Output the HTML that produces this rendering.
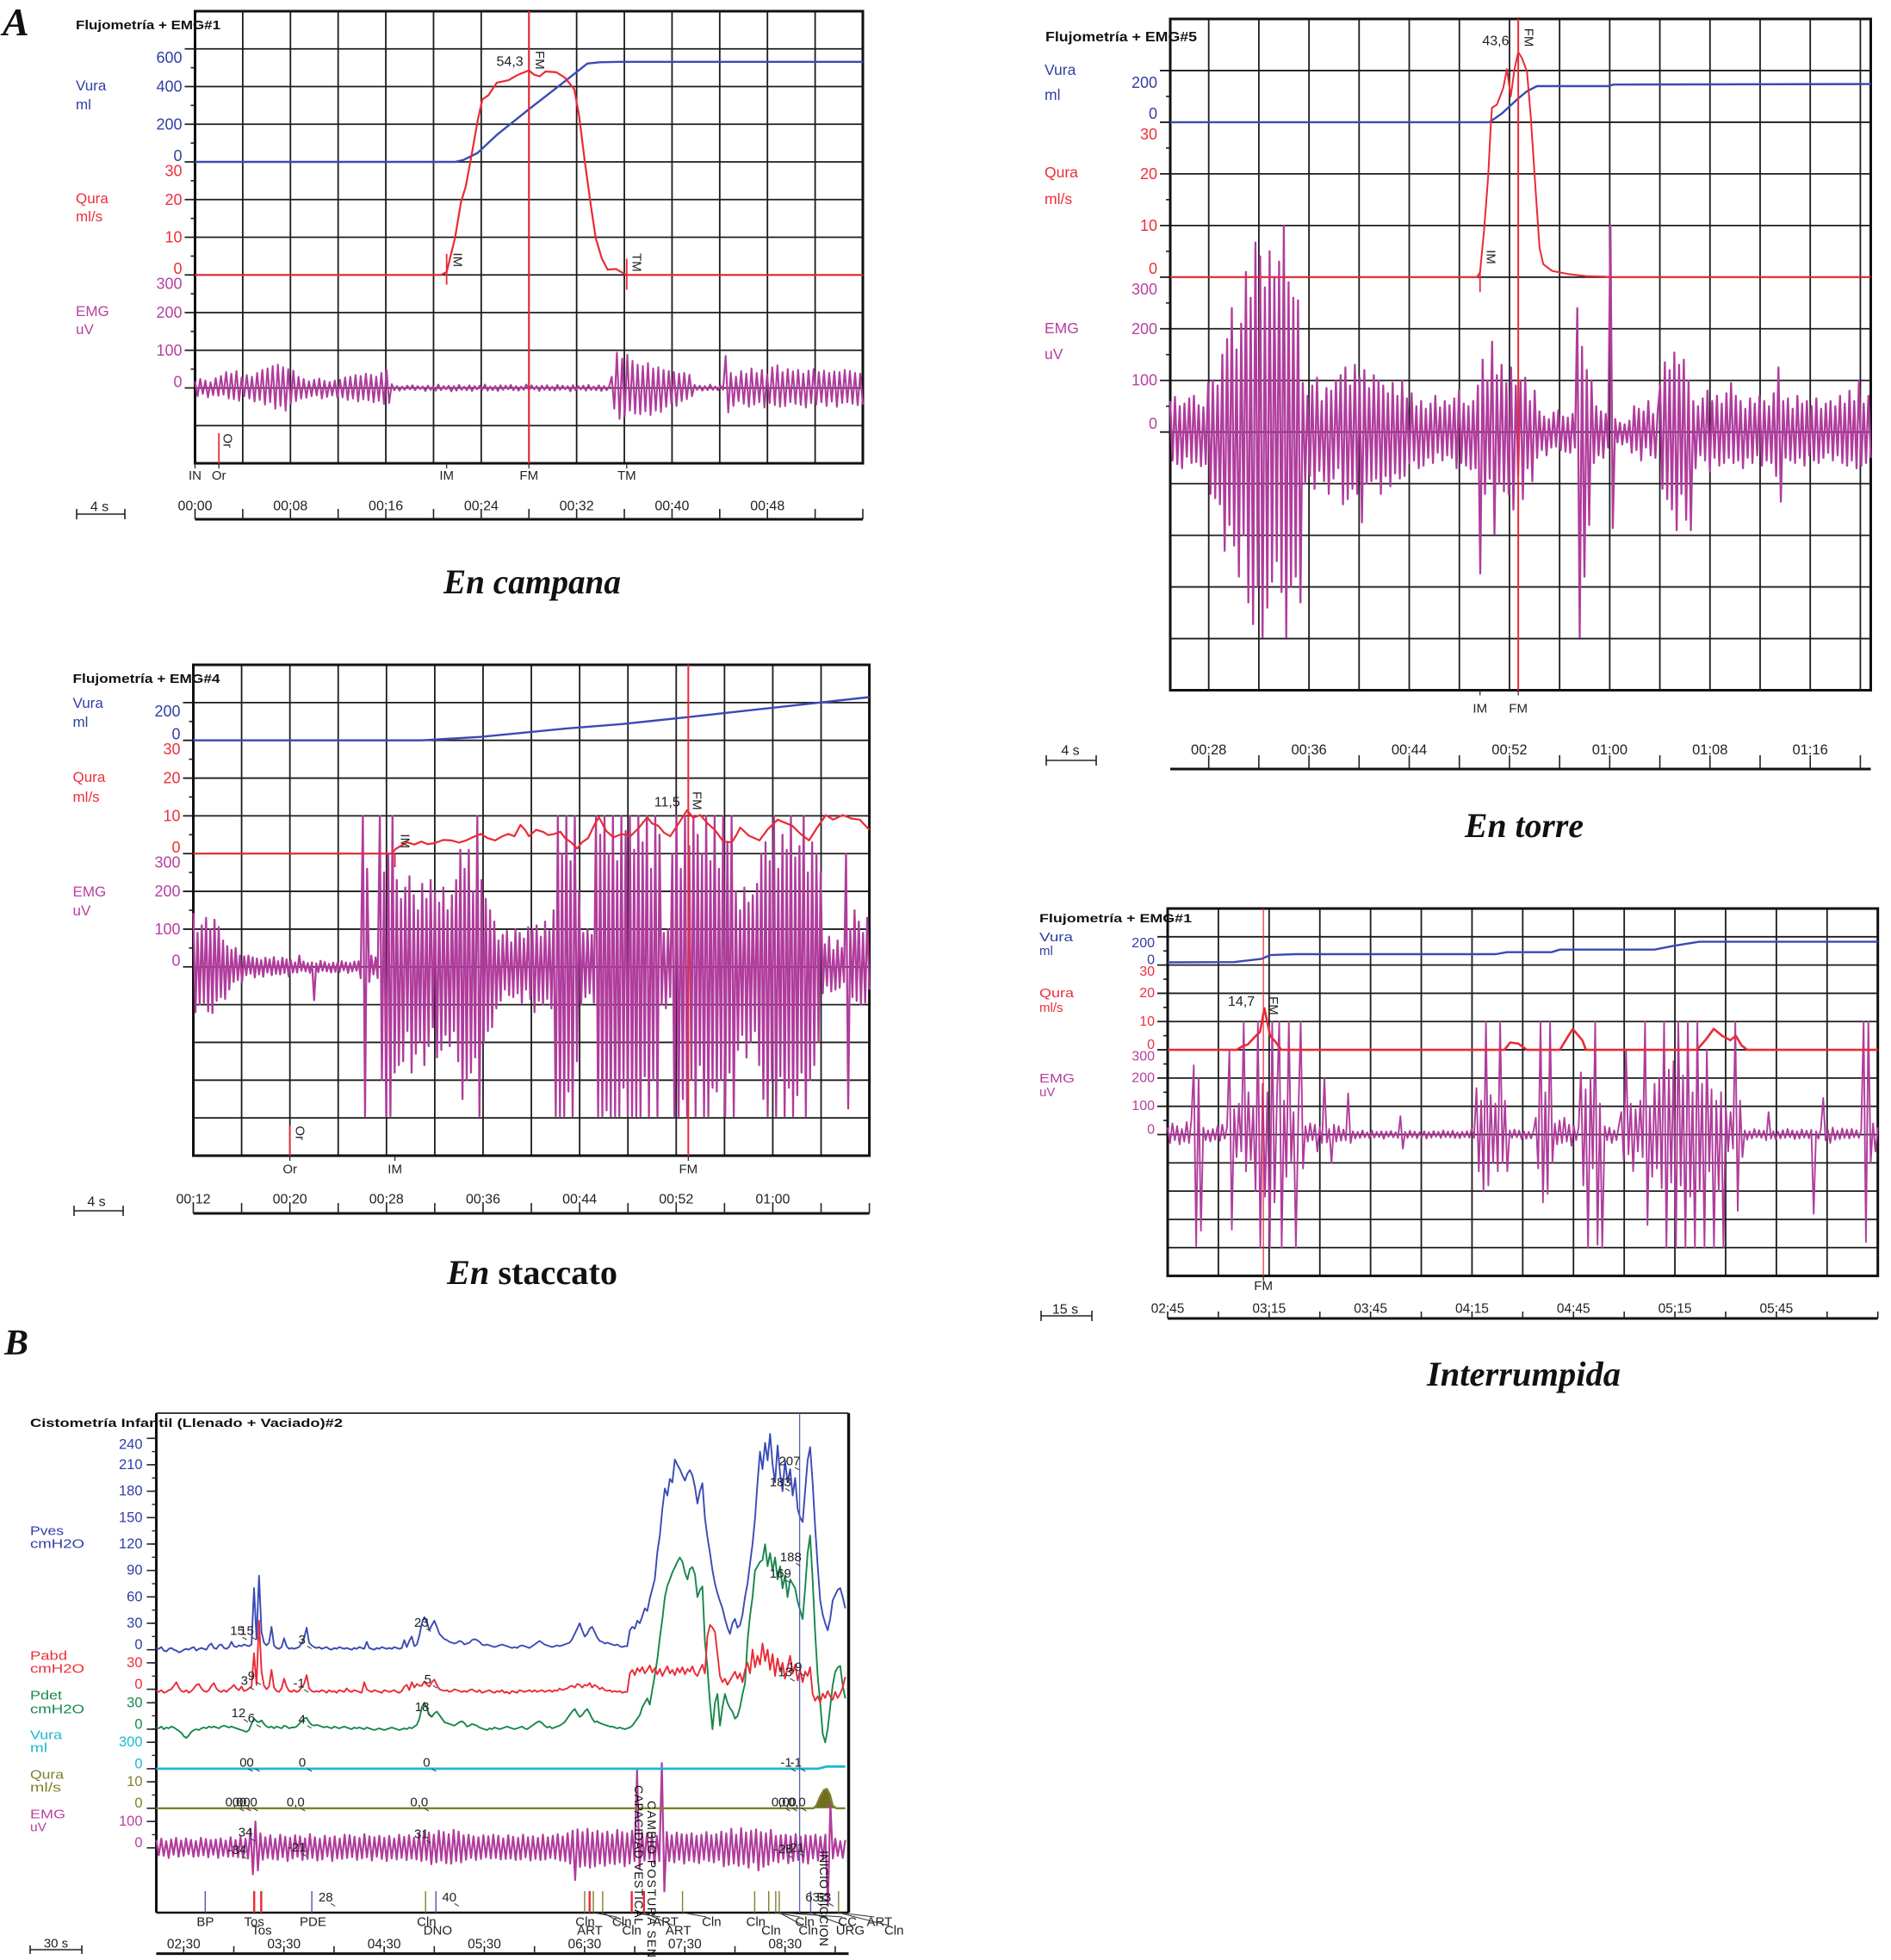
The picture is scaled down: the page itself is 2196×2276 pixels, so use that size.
<!DOCTYPE html>
<html lang="es">
<head>
<meta charset="utf-8">
<title>Flujometría + EMG</title>
<style>
html,body{margin:0;padding:0;background:#fff;}
svg{display:block;}
text{font-family:"Liberation Sans",sans-serif;fill:#111;}
.cap{font-family:"Liberation Serif",serif;font-weight:bold;}
</style>
</head>
<body>
<svg id="figure" xmlns="http://www.w3.org/2000/svg" width="2196" height="2276" viewBox="0 0 2196 2276">
<rect x="0" y="0" width="2196" height="2276" fill="#fff"/>
<text class="cap" x="3" y="41" font-size="46" font-style="italic">A</text>
<text class="cap" x="5" y="1573" font-size="42" font-style="italic">B</text>

<g id="a1">
<text x="88" y="34" font-size="15" font-weight="bold" textLength="168" lengthAdjust="spacingAndGlyphs">Flujometría + EMG#1</text>
<text x="88" y="105" font-size="17" style="fill:#2f3fa5">Vura</text>
<text x="88" y="127" font-size="17" style="fill:#2f3fa5">ml</text>
<text x="88" y="236" font-size="17" style="fill:#ee2e38">Qura</text>
<text x="88" y="257" font-size="17" style="fill:#ee2e38">ml/s</text>
<text x="88" y="367" font-size="17" style="fill:#b8409f">EMG</text>
<text x="88" y="388" font-size="17" style="fill:#b8409f">uV</text>
<text class="cap" x="515" y="689" font-size="40" font-style="italic" textLength="206" lengthAdjust="spacingAndGlyphs">En campana</text>
</g>

<g id="a2">
<text x="1214" y="48" font-size="15.5" font-weight="bold" textLength="176" lengthAdjust="spacingAndGlyphs">Flujometría + EMG#5</text>
<text x="1213" y="87" font-size="17.5" style="fill:#2f3fa5">Vura</text>
<text x="1213" y="116" font-size="17.5" style="fill:#2f3fa5">ml</text>
<text x="1213" y="206" font-size="17.5" style="fill:#ee2e38">Qura</text>
<text x="1213" y="237" font-size="17.5" style="fill:#ee2e38">ml/s</text>
<text x="1213" y="387" font-size="17.5" style="fill:#b8409f">EMG</text>
<text x="1213" y="417" font-size="17.5" style="fill:#b8409f">uV</text>
<text class="cap" x="1701" y="972" font-size="40" font-style="italic" textLength="138" lengthAdjust="spacingAndGlyphs">En torre</text>
</g>

<g id="a3">
<text x="84.5" y="793" font-size="15" font-weight="bold" textLength="171" lengthAdjust="spacingAndGlyphs">Flujometría + EMG#4</text>
<text x="84.5" y="822" font-size="17" style="fill:#2f3fa5">Vura</text>
<text x="84.5" y="844" font-size="17" style="fill:#2f3fa5">ml</text>
<text x="84.5" y="908" font-size="17" style="fill:#ee2e38">Qura</text>
<text x="84.5" y="931" font-size="17" style="fill:#ee2e38">ml/s</text>
<text x="84.5" y="1041" font-size="17" style="fill:#b8409f">EMG</text>
<text x="84.5" y="1063" font-size="17" style="fill:#b8409f">uV</text>
<text class="cap" x="519" y="1491" font-size="40" textLength="198" lengthAdjust="spacingAndGlyphs"><tspan font-style="italic">En</tspan> staccato</text>
</g>

<g id="a4">
<text x="1207" y="1071" font-size="14" font-weight="bold" textLength="177" lengthAdjust="spacingAndGlyphs">Flujometría + EMG#1</text>
<text x="1207" y="1093" font-size="15" textLength="39" lengthAdjust="spacingAndGlyphs" style="fill:#2f3fa5">Vura</text>
<text x="1207" y="1109" font-size="15" style="fill:#2f3fa5">ml</text>
<text x="1207" y="1158" font-size="15" textLength="40" lengthAdjust="spacingAndGlyphs" style="fill:#ee2e38">Qura</text>
<text x="1207" y="1175" font-size="15" style="fill:#ee2e38">ml/s</text>
<text x="1207" y="1257" font-size="15" textLength="41" lengthAdjust="spacingAndGlyphs" style="fill:#b8409f">EMG</text>
<text x="1207" y="1273" font-size="15" style="fill:#b8409f">uV</text>
<text class="cap" x="1657" y="1609" font-size="40" font-style="italic" textLength="225" lengthAdjust="spacingAndGlyphs">Interrumpida</text>
</g>

<g id="b">
<text x="35" y="1657" font-size="14" font-weight="bold" textLength="363" lengthAdjust="spacingAndGlyphs">Cistometría Infantil (Llenado + Vaciado)#2</text>
<text x="35" y="1782.5" font-size="15" textLength="39" lengthAdjust="spacingAndGlyphs" style="fill:#2f3fa5">Pves</text>
<text x="35" y="1797.5" font-size="15" textLength="63" lengthAdjust="spacingAndGlyphs" style="fill:#2f3fa5">cmH2O</text>
<text x="35" y="1927.5" font-size="15" textLength="43" lengthAdjust="spacingAndGlyphs" style="fill:#ee2e38">Pabd</text>
<text x="35" y="1942.5" font-size="15" textLength="63" lengthAdjust="spacingAndGlyphs" style="fill:#ee2e38">cmH2O</text>
<text x="35" y="1973.5" font-size="15" textLength="37" lengthAdjust="spacingAndGlyphs" style="fill:#168a4a">Pdet</text>
<text x="35" y="1989.5" font-size="15" textLength="63" lengthAdjust="spacingAndGlyphs" style="fill:#168a4a">cmH2O</text>
<text x="35" y="2019.5" font-size="15" textLength="37" lengthAdjust="spacingAndGlyphs" style="fill:#19b9d0">Vura</text>
<text x="35" y="2034.5" font-size="15" textLength="20" lengthAdjust="spacingAndGlyphs" style="fill:#19b9d0">ml</text>
<text x="35" y="2065.5" font-size="15" textLength="39" lengthAdjust="spacingAndGlyphs" style="fill:#80802a">Qura</text>
<text x="35" y="2080.5" font-size="15" textLength="36" lengthAdjust="spacingAndGlyphs" style="fill:#80802a">ml/s</text>
<text x="35" y="2111.5" font-size="15" textLength="41" lengthAdjust="spacingAndGlyphs" style="fill:#b8409f">EMG</text>
<text x="35" y="2126.5" font-size="15" textLength="19" lengthAdjust="spacingAndGlyphs" style="fill:#b8409f">uV</text>
</g>
<g id="b-overlay">
<text transform="translate(737,2073) rotate(90)" font-size="14" textLength="162" lengthAdjust="spacing">CAPACIDAD VESTICAL</text>
<text transform="translate(752,2091) rotate(90)" font-size="14" textLength="182" lengthAdjust="spacing">CAMBIO POSTURA SEN</text>
<text transform="translate(952,2149) rotate(90)" font-size="14" textLength="111" lengthAdjust="spacing">INICIO MICCION</text>
</g>
</svg>

<script>
/* ---------- Panel A1: En campana ---------- */
const a1VolTime=[0,21.8,22.5,23.7,25.3,28,31,32.9,33.9,35.5,56];
const a1VolValues=[0,0,10,48,143,280,427,522,529,531,531];
const a1FlowTime=[0,20.6,21.1,21.8,22.3,22.7,23.2,23.7,24.1,24.6,25.3,26.3,27,28,28.4,28.9,29.4,30.3,31,31.8,32.2,32.7,33.2,33.6,34.1,34.6,35.3,36,36.2,56];
const a1FlowValues=[0,0,0.8,9.8,19.3,23.5,32,41,46.6,47.7,51,51.7,53,54.3,53.2,52.7,54,53.8,52.4,49.3,42.4,29.8,18.2,9.8,4.5,1.4,1.6,0.3,0,0];
const a1Emg=[18,-22,24,-16,20,-25,15,-19,26,-21,32,-18,42,-28,38,-30,45,-34,28,-22,34,-28,30,-36,40,-32,48,-44,52,-38,58,-55,62,-48,55,-60,50,-42,46,-35,30,-28,24,-26,18,-22,22,-20,25,-28,19,-24,16,-20,20,-26,22,-25,28,-32,30,-28,34,-36,32,-30,38,-33,35,-38,30,-34,40,-42,48,-40,10,-6,5,-7,4,-5,6,-4,7,-6,5,-3,4,-8,6,-5,4,-7,9,-6,5,-4,6,-9,5,-7,8,-5,4,-6,7,-8,5,-4,6,-5,9,-7,4,-6,5,-8,7,-5,6,-4,8,-6,5,-7,4,-5,9,-6,7,-4,5,-8,6,-5,7,-6,4,-7,8,-5,6,-4,5,-9,7,-6,5,-4,6,-7,8,-5,4,-6,7,-8,5,-6,4,30,-55,94,-82,78,-75,88,-60,72,-68,62,-70,58,-62,66,-72,52,-60,55,-64,48,-50,45,-40,42,-48,38,-35,40,-30,35,-22,8,-5,6,-7,5,-6,9,-5,4,-6,7,-5,85,-65,40,-48,30,-35,45,-42,38,-50,52,-44,40,-38,48,-52,36,-40,55,-46,60,-50,42,-48,50,-38,44,-42,48,-45,38,-52,46,-40,50,-44,42,-38,46,-48,40,-36,44,-50,42,-40,48,-38,45,-42,40,-46,38,-44];
const a1VolTicks=[600,400,200,0];
const a1FlowTicks=[30,20,10,0];
const a1EmgTicks=[300,200,100,0];
const a1TimeLabels=['00:00','00:08','00:16','00:24','00:32','00:40','00:48'];
const a1MarkLabels=['IN','Or','IM','FM','TM'];
const a1MarkTime=[0,2,21.1,28,36.2];
const a1CursorTime=[28];
const a1TickTime=[2,21.1,36.2];
const a1TickHigh=[-42,5.6,4.3];
const a1TickLow=[-50,-2.6,-3.9];
const a1TagText=['FM','IM','TM','Or'];
const a1TagTime=[28.9,22,37,2.7];
const a1TagFlow=[57,4,3.3,-44];
const a1NoteText=['54,3'];
const a1NoteTime=[26.4];
const a1NoteFlow=[56.5];

/* ---------- Panel A2: En torre ---------- */
const a2VolTime=[24.93,50.4,51.4,52.7,53.4,54.2,59.9,60.3,80.83];
const a2VolValues=[0,0,34,92,120,140,140,146,148];
const a2FlowTime=[24.93,49.4,49.65,49.96,50.3,50.5,50.6,51,51.5,51.8,52.1,52.4,52.7,53,53.4,53.7,54.1,54.4,54.7,55.4,56.7,58.1,59.6,60,80.83];
const a2FlowValues=[0,0,0.9,8.8,19.5,29,32.8,33.4,36.6,40.3,35,40.3,43.6,42.4,39.8,31,16.3,5.6,2.5,1.2,0.6,0.2,0.1,0,0];
const a2Emg=[60,-55,68,-62,50,-70,55,-48,65,-60,70,-58,52,-66,48,-62,95,-120,100,-128,90,-140,150,-230,180,-180,240,-220,160,-280,210,-200,310,-330,260,-372,367,-300,340,-397,280,-340,350,-290,300,-250,330,-310,400,-397,290,-300,260,-280,255,-330,95,-100,70,-85,90,-110,105,-75,60,-95,85,-120,80,-90,100,-70,110,-140,125,-130,90,-110,130,-120,105,-175,120,-100,85,-95,110,-90,100,-120,90,-85,75,-105,95,-80,70,-90,100,-85,65,-60,75,-55,50,-70,60,-65,45,-50,55,-60,70,-40,48,-55,60,-45,52,-50,65,-70,80,-60,55,-65,50,-72,60,-70,90,-274,140,-120,100,-90,175,-197,110,-100,130,-115,95,-120,125,-150,90,-85,100,-130,105,-70,60,-95,80,-50,40,-35,30,-45,25,-30,38,-28,42,-35,30,-38,28,-40,35,-30,240,-397,165,-280,120,-180,100,-60,50,-45,40,-50,35,-30,400,-186,25,-20,18,-24,15,-20,22,-40,50,-35,45,-55,40,-30,60,-45,35,-50,42,90,-110,135,-130,120,-150,154,-190,130,-120,140,-170,100,-190,60,-70,50,-45,65,-55,80,-75,60,-50,70,-65,55,-60,75,-50,95,-60,70,-55,60,-70,45,-50,65,-60,55,-45,70,-65,60,-55,50,-60,75,-85,125,-135,60,-50,65,-55,45,-60,70,-50,55,-65,60,-45,50,-55,65,-60,45,-50,55,-40,60,-55,50,-45,70,-60,55,-65,80,-55,60,-70,100,-65,55,-60,70,-50];
const a2VolTicks=[200,0];
const a2FlowTicks=[30,20,10,0];
const a2EmgTicks=[300,200,100,0];
const a2TimeLabels=['00:28','00:36','00:44','00:52','01:00','01:08','01:16'];
const a2MarkLabels=['IM','FM'];
const a2MarkTime=[49.65,52.7];
const a2CursorTime=[52.7];
const a2TickTime=[49.65];
const a2TickHigh=[1.4];
const a2TickLow=[-2.9];
const a2TagText=['FM','IM'];
const a2TagTime=[53.5,50.5];
const a2TagFlow=[46.4,3.9];
const a2NoteText=['43,6'];
const a2NoteTime=[50.9];
const a2NoteFlow=[45.7];

/* ---------- Panel A3: En staccato ---------- */
const a3VolTime=[12,30.9,35.8,42.8,47.5,53,59.2,63.9,68];
const a3VolValues=[0,0,18,62,86,123,167,200,229];
const a3FlowTime=[12,28.4,28.8,29.7,30.3,30.9,31.4,32,32.7,33.4,34,34.6,35.2,35.8,36.4,37,37.6,38.1,38.6,39.1,39.5,39.8,40.4,41,41.4,41.9,42.4,42.8,43.3,43.8,44.2,44.7,45.2,45.6,46.2,46.8,47.5,48.2,48.9,49.6,50,50.5,51,51.5,52.2,52.9,53.4,54,54.6,55.2,55.9,56.6,57,57.3,58,58.9,59.6,60.4,61,61.6,62.3,63,63.7,64.4,65,65.8,66.5,67.2,68];
const a3FlowValues=[0,0,1.3,3,2.4,3.2,2.5,2.8,3.6,3.5,2.9,3.5,4.4,5.2,4.1,3.5,4.6,5.2,4.6,7.6,6.2,4.6,6.3,5.7,4.9,5.2,5.8,4.1,3,1.3,3,4.1,7.5,9.6,6,4.3,5.2,4.6,6.8,9.6,8,7.4,5.5,4.6,8,11.5,9.5,10.2,8,6.3,3.2,3,5,6.9,4.8,3.5,6.5,9,8.2,7.4,5.2,3.5,7,10.2,9,10.2,9.3,9,6.3];
const a3Emg=[143,-120,90,-100,110,-95,130,-118,100,-122,125,-90,105,-80,70,-85,55,-60,45,-40,50,-35,30,-40,28,-22,30,-18,25,-28,22,-20,18,-26,24,-15,20,-22,26,-18,15,-20,24,-16,20,-25,18,-15,12,-15,30,-10,14,-12,10,-16,12,-88,9,-14,16,-10,13,-12,8,-15,11,-13,10,-14,15,-9,12,-16,10,-12,14,-10,15,-30,400,-395,260,-40,30,-20,25,-30,400,-300,250,-395,300,-395,400,-280,230,-260,180,-250,210,-170,240,-280,190,-230,150,-200,220,-260,180,-210,230,-160,200,-240,170,-220,210,-180,150,-210,190,-170,230,-250,310,-350,260,-300,310,-280,200,-240,400,-395,230,-200,180,-170,150,-160,120,-110,70,-90,85,-60,95,-75,65,-80,100,-70,90,-95,75,-60,105,-85,100,-120,110,-90,80,-100,120,-85,95,-110,150,-395,400,-395,300,-395,400,-330,280,-395,400,-250,200,-100,90,-80,100,-70,85,-95,400,-395,350,-395,400,-380,300,-395,400,-395,280,-395,400,-320,360,-395,400,-395,310,-395,400,-395,330,-290,400,-395,260,-300,400,-395,350,-100,90,-110,100,-80,300,-395,400,-395,260,-350,400,-395,320,-300,400,-395,350,-260,300,-395,400,-395,280,-320,400,-330,260,-300,400,-395,330,-280,400,-395,200,-220,150,-180,210,-240,170,-200,190,-170,220,-260,300,-350,330,-395,280,-300,400,-395,260,-290,350,-395,310,-320,400,-395,290,-340,320,-280,400,-395,250,-300,330,-260,300,-200,250,-70,60,-50,80,-65,45,-60,70,-55,50,-40,300,-375,100,-80,150,-90,120,-100,90,-95,130,-60];
const a3VolTicks=[200,0];
const a3FlowTicks=[30,20,10,0];
const a3EmgTicks=[300,200,100,0];
const a3TimeLabels=['00:12','00:20','00:28','00:36','00:44','00:52','01:00'];
const a3MarkLabels=['Or','IM','FM'];
const a3MarkTime=[20,28.7,53];
const a3CursorTime=[53];
const a3TickTime=[20,28.7];
const a3TickHigh=[-72,0];
const a3TickLow=[-80,-3.6];
const a3TagText=['FM','IM','Or'];
const a3TagTime=[53.7,29.5,20.8];
const a3TagFlow=[14,3.3,-74];
const a3NoteText=['11,5'];
const a3NoteTime=[51.25];
const a3NoteFlow=[13.5];

/* ---------- Panel A4: Interrumpida ---------- */
const a4VolTime=[165,184.6,192.8,195.3,202.7,262,265.3,278.5,281,309,314.8,322.2,375];
const a4VolValues=[19,21,44,70,77,77,91,91,109,109,137,165,165];
const a4FlowTime=[165,185.4,187,188.7,191.1,192.3,193.6,195.3,196.9,198.6,264.6,266.3,268.7,271.2,281,283.5,284.8,287.6,288.7,321.5,324,326.5,329,331.4,333,334.7,336.4,375];
const a4FlowValues=[0,0,1.2,1.9,5,6.3,14.7,5,2.8,0,0,2.6,2.2,0,0,5,7.4,3.4,0,0,3.4,7.4,4.9,3.4,5,1.6,0,0];
const a4Emg=[25,-30,40,-20,30,-35,20,-25,45,-30,55,245,-394,200,-340,25,-20,15,-25,20,-18,30,-22,35,-15,28,300,-336,90,-80,110,-60,399,-130,150,-90,100,-200,399,-400,180,-220,150,-400,399,-240,130,399,-400,120,-150,399,-100,80,-400,60,399,-120,30,-25,40,-20,35,-60,25,-30,200,-28,20,-100,35,-25,30,-22,18,-20,146,-30,12,-14,10,-12,15,-10,8,-13,14,-11,10,-9,12,-15,11,-8,13,-10,9,-12,65,-50,10,-12,14,-9,11,-13,8,-10,12,-14,9,-11,13,-8,10,-12,15,-9,11,-10,14,-12,8,-13,10,-9,12,-11,20,-12,165,-130,120,-200,399,-180,140,-100,110,-130,399,-100,120,-130,15,-12,18,-10,14,-16,12,-15,10,-14,12,60,-120,399,-240,150,-210,399,-100,40,-35,50,-30,60,-25,35,-40,30,-20,25,220,-180,160,-400,200,-120,399,-390,110,-400,30,-20,25,-30,15,-20,35,80,-90,300,-70,110,-130,90,-60,120,-80,399,-320,100,-150,180,-120,200,-190,399,-400,230,-170,260,-400,399,-180,210,-400,399,-220,150,-400,399,-200,180,-400,300,-130,160,-400,120,-200,150,-400,100,-60,80,-50,399,-270,120,-80,15,-18,12,-14,20,-10,16,-12,14,-20,80,-15,12,-18,10,-14,16,-12,20,-10,15,-16,12,-14,18,-11,14,-13,17,-280,12,-15,18,130,-20,15,-30,25,-18,14,-16,22,-12,18,-14,20,-10,16,-12,15,399,-380,399,-100,40,-60,25];
const a4VolTicks=[200,0];
const a4FlowTicks=[30,20,10,0];
const a4EmgTicks=[300,200,100,0];
const a4TimeLabels=['02:45','03:15','03:45','04:15','04:45','05:15','05:45'];
const a4MarkLabels=['FM'];
const a4MarkTime=[193.3];
const a4CursorTime=[193.3];
const a4TickTime=[];
const a4TickHigh=[];
const a4TickLow=[];
const a4TagText=['FM'];
const a4TagTime=[196.2];
const a4TagFlow=[15.6];
const a4NoteText=['14,7'];
const a4NoteTime=[186.8];
const a4NoteFlow=[16.9];

/* ---------- Panel B: Cistometría ---------- */
const bPves=[2,1,3,-1,-2,1,2,0,-1,-3,-2,0,1,0,2,3,-1,1,2,1,0,5,7,2,1,5,6,2,1,3,9,4,3,5,4,6,5,4,6,70,12,84,20,8,5,8,26,5,2,1,3,13,4,1,2,1,2,3,7,13,25,8,5,3,2,3,1,2,3,1,0,2,1,3,2,1,2,1,0,2,1,3,2,1,9,2,1,0,2,1,3,2,1,2,1,3,2,1,2,11,3,10,15,4,6,16,30,37,32,22,28,33,26,18,15,12,11,9,8,7,8,10,9,6,7,8,11,12,11,9,6,5,6,5,4,3,4,5,6,5,4,3,2,3,2,4,5,4,3,2,4,6,8,10,8,6,5,4,3,4,5,4,5,6,7,8,12,18,24,30,22,15,18,24,26,20,14,10,9,7,8,7,6,5,6,4,3,4,4,22,26,24,33,30,38,47,44,58,69,80,111,130,160,183,175,194,190,216,210,205,198,192,200,204,198,185,166,180,189,150,128,110,90,75,64,55,47,35,25,18,30,35,25,28,40,60,75,98,120,149,190,225,205,235,215,245,210,190,232,200,180,215,190,205,175,195,160,150,145,180,215,230,190,140,95,56,40,30,22,35,56,62,68,70,60,47];
const bPabd=[-2,-3,-1,-4,-3,-1,0,4,8,2,-2,-3,-1,-4,-2,1,5,6,1,-2,-3,-1,4,7,1,-2,-3,-1,-3,0,2,5,1,-1,3,-2,-1,1,3,41,5,78,20,4,0,3,22,2,-2,-3,1,12,3,-2,-3,-1,-3,-2,2,6,16,1,-2,-3,-2,-3,-1,-2,-4,-1,-3,-2,-4,-1,-2,-3,1,-2,-3,-1,-2,-3,-4,8,0,-2,-3,-1,-2,-3,-4,-1,-2,-3,-2,-1,-3,-4,-2,3,5,-1,8,2,6,4,4,9,5,3,8,11,5,0,-1,-2,-1,-3,-2,0,-1,-2,-3,-2,-3,-1,0,-2,-3,-1,-4,-3,-2,-1,-3,-4,-2,-3,-1,-4,-3,-5,-2,-3,-4,-1,-2,-3,-2,-1,-3,-1,-3,-2,-1,-3,-2,-1,-3,-1,-2,1,-1,0,1,3,4,2,6,5,2,5,4,7,2,5,3,0,2,-1,-2,-1,-3,-2,-3,-2,-4,-3,-3,18,22,16,24,20,25,18,22,27,19,24,17,23,15,21,26,18,22,16,24,19,25,17,23,20,26,18,15,22,28,18,60,73,70,65,40,15,8,12,5,10,15,20,12,18,8,22,30,18,45,25,38,28,52,32,45,22,40,15,35,20,30,12,25,38,18,28,10,22,8,20,15,25,-5,-13,-8,-15,-5,-10,-2,-8,-12,-3,-10,-5,2,14];
const bPdet=[2,1,3,0,2,1,3,2,0,-2,-4,-8,-10,-7,-3,-1,0,-1,1,2,1,3,2,3,2,1,3,4,3,2,3,2,1,0,-1,-2,-3,-1,6,12,9,8,10,6,3,2,3,1,3,2,1,4,3,1,2,2,3,6,9,12,13,8,5,4,5,4,3,2,3,2,1,3,2,1,2,3,2,1,0,2,1,2,1,0,2,1,0,-1,0,1,0,-1,0,1,2,1,0,-1,0,1,0,2,1,3,5,12,25,30,24,16,14,18,20,16,12,8,7,6,5,4,6,8,9,7,3,4,6,5,4,2,1,0,-1,1,0,2,1,0,1,2,3,2,1,0,1,2,3,1,0,2,4,6,8,9,7,4,2,3,1,2,3,4,6,8,12,16,20,23,18,14,16,20,23,18,12,8,9,7,6,5,4,3,3,2,1,2,1,0,1,2,4,8,12,16,25,30,35,28,45,61,80,104,125,150,163,170,178,184,190,195,190,178,170,182,184,176,150,158,162,100,70,30,0,30,40,4,25,40,30,24,20,12,15,25,40,52,100,129,150,180,185,190,192,210,185,200,180,195,170,185,160,175,150,170,165,160,145,135,125,160,200,220,170,110,60,30,-5,-15,0,25,50,65,70,72,50,35];
const bEmg=[30,-28,35,-30,25,-38,32,-26,38,-34,28,-30,36,-24,30,-34,26,-32,38,-28,34,-36,30,-26,32,-38,36,-30,28,-34,40,-32,30,-36,42,-38,35,-40,70,-100,100,-85,55,-45,40,-38,48,-42,35,-45,50,-36,42,-50,38,-40,48,-34,44,-46,36,-42,52,-38,40,-48,35,-44,46,-32,38,-50,44,-40,36,-42,50,-38,48,-35,42,-46,38,-40,52,-36,44,-48,40,-34,46,-42,38,-50,45,-40,36,-44,50,-38,42,-46,48,-40,38,-44,55,-50,60,-45,58,-62,50,-55,65,-48,60,-58,52,-60,68,-50,62,-55,48,-45,50,-38,44,-46,40,-42,48,-36,44,-40,50,-38,46,-44,36,-42,48,-40,42,-46,38,-44,50,-36,40,-48,44,-42,38,-46,50,-44,40,-38,46,-42,52,-48,44,-50,55,-60,65,-122,70,-72,60,-68,72,-75,58,-70,65,-60,55,-68,62,-58,50,-62,68,-55,60,-70,55,-60,65,-50,293,-80,60,-48,55,-42,50,-60,45,-50,321,-165,60,-50,48,-55,58,-45,52,-60,50,-48,55,-52,46,-58,50,-45,60,-50,48,-55,52,-46,62,-70,55,-65,72,-60,50,-68,75,-62,58,-75,65,-55,70,-85,60,-72,55,-65,68,-50,45,-55,48,-42,50,-58,44,-50,52,-46,42,-55,48,-60,45,-40,50,-48,42,-44,50,-220,166,-40,35,-30,25,-38,30];
const bVolTime=[133.6,529.8,535,546];
const bVolValues=[0,0,25,25];
const bFlowTime=[133.6,527,528.8,531,533.3,535,536.8,538.5,540.6,546];
const bFlowValues=[0,0,1,4.5,6.9,7.3,5.2,1,0,0];
const bPvesTicks=[240,210,180,150,120,90,60,30,0];
const bPabdTicks=[30,0];
const bPdetTicks=[30,0];
const bVolTicks=[300,0];
const bFlowTicks=[10,0];
const bEmgTicks=[100,0];
const bTimeLabels=['02:30','03:30','04:30','05:30','06:30','07:30','08:30'];
const bEventTime=[162.9,192.2,196.4,226.7,294.8,301,390,393,395.2,400.8,418.2,425.5,448.6,491.8,500.2,504.4,506.5,525.3,542];
const bEventKind=['blue','red','red','blue','olive','blue','olive','red','olive','olive','red','red','olive','olive','olive','olive','olive','blue','olive'];
const bLabelText=['BP','Tos','Tos','PDE','Cln','DNO','Cln','ART','Cln','Cln','ART','ART','Cln','Cln','Cln','Cln','Cln','CC','URG','ART','Cln'];
const bLabelTime=[162.9,192.2,196.7,227.4,295.4,302.1,390.3,393.1,412.3,418.2,438.5,446.1,466,492.5,501.6,521.8,523.9,547.3,549,566.5,575.2];
const bLabelRow=[0,0,1,0,0,1,0,1,0,1,0,1,0,0,1,0,1,0,1,0,1];
const bLabelEvent=[0,1,2,3,4,5,6,7,8,9,10,11,12,13,14,15,16,16,17,18,18];
const bCursorTime=[518.7];
const bPvesNoteText=['15','15','3','23','207','183','188','169'];
const bPvesNoteTime=[182.1,187.7,220.8,292.3,512.7,507.2,513.4,507.2];
const bPvesNoteValue=[21,21,11,30.5,214,190,105,86];
const bPabdNoteText=['3','9','-1','5','19','13'];
const bPabdNoteTime=[186.3,190.5,219,296.1,515.9,510];
const bPabdNoteValue=[9.3,15,6.4,11,25,19];
const bPdetNoteText=['12','6','4','18'];
const bPdetNoteTime=[182.8,190.5,220.8,292.7];
const bPdetNoteValue=[18,12,11,25];
const bVolNoteText=['0','0','0','0','-1','-1'];
const bVolNoteTime=[185.6,189.8,221,295.4,510.7,516.5];
const bVolNoteValue=[68,68,68,68,68,68];
const bFlowNoteText=['0,0','0,0','0,0','0,0','0,0','0,0','0,0','0,0'];
const bFlowNoteTime=[180.3,184.5,188.7,217,291,507.2,511.4,517];
const bFlowNoteValue=[2.25,2.25,2.25,2.25,2.25,2.25,2.25,2.25];
const bEmgNoteText=['34','-34','-21','31','-28','-21','28','40','63','53'];
const bEmgNoteTime=[187,182,217.7,292.3,509,515.9,235,309,526.4,533.3];
const bEmgNoteValue=[58,-8,1,51,-6,0,-188,-188,-188,-188];

/* ---------- Drawing ---------- */
const NS='http://www.w3.org/2000/svg';
const BLUE='#3a4ab5',RED='#ea2a36',MAG='#b03c9c',GREEN='#16874a',CYAN='#1cb8d2',OLIVE='#80802a';

function make(tag,attrs,parent){
  const el=document.createElementNS(NS,tag);
  for(const k in attrs){el.setAttribute(k,attrs[k]);}
  parent.appendChild(el);
  return el;
}
function seg(parent,name,x1,y1,x2,y2,color,width){
  const el=make('line',{x1:x1,y1:y1,x2:x2,y2:y2,stroke:color,'stroke-width':width},parent);
  
  
  return el;
}
function label(parent,name,str,x,y,size,color,anchor){
  const el=make('text',{x:x,y:y,'font-size':size,'text-anchor':anchor||'middle','dominant-baseline':'central',style:'fill:'+color},parent);
  el.textContent=str;
  
  
  return el;
}
function trace(parent,name,pts,color,width){
  const el=make('polyline',{points:pts.map(p=>p[0].toFixed(1)+','+p[1].toFixed(1)).join(' '),fill:'none',stroke:color,'stroke-width':width,'stroke-linejoin':'round'},parent);
  
  
  return el;
}
function secs(s){const q=s.split(':');return (+q[0])*60+(+q[1]);}

const panels=[
 {id:'a1',left:226.5,right:1002,top:13,bottom:538,rows:12,tStart:0,tEnd:56,col:4,vol:{zeroRow:4,perRow:200},flow:{zeroRow:7,perRow:10},emg:{zeroRow:10,perRow:100},
  volT:a1VolTime,volV:a1VolValues,flowT:a1FlowTime,flowV:a1FlowValues,emgV:a1Emg,volTicks:a1VolTicks,flowTicks:a1FlowTicks,emgTicks:a1EmgTicks,timeLabels:a1TimeLabels,markL:a1MarkLabels,markT:a1MarkTime,cursor:a1CursorTime,tickT:a1TickTime,tickH:a1TickHigh,tickL:a1TickLow,tagS:a1TagText,tagT:a1TagTime,tagV:a1TagFlow,noteS:a1NoteText,noteT:a1NoteTime,noteV:a1NoteFlow,
  axisY:603,tickTop:591,timeLabelY:588,markY:552.5,scale:[89,145,597],scaleText:['4 s',115.5,589],fs:18,tfs:16,flowW:2.2,emgW:2.1,cursorW:2},
 {id:'a2',left:1359,right:2172.5,top:22,bottom:801.5,rows:13,tStart:24.93,tEnd:80.83,col:4,gridFrom:28,vol:{zeroRow:2,perRow:200},flow:{zeroRow:5,perRow:10},emg:{zeroRow:8,perRow:100},
  volT:a2VolTime,volV:a2VolValues,flowT:a2FlowTime,flowV:a2FlowValues,emgV:a2Emg,volTicks:a2VolTicks,flowTicks:a2FlowTicks,emgTicks:a2EmgTicks,timeLabels:a2TimeLabels,markL:a2MarkLabels,markT:a2MarkTime,cursor:a2CursorTime,tickT:a2TickTime,tickH:a2TickHigh,tickL:a2TickLow,tagS:a2TagText,tagT:a2TagTime,tagV:a2TagFlow,noteS:a2NoteText,noteT:a2NoteTime,noteV:a2NoteFlow,
  axisY:893,tickTop:877,timeLabelY:871,markY:823,scale:[1215,1273,883],scaleText:['4 s',1243,872],fs:18,tfs:16.5,flowW:2,emgW:2.3,cursorW:2},
 {id:'a3',left:224.5,right:1009.6,top:772,bottom:1342,rows:13,tStart:12,tEnd:68,col:4,vol:{zeroRow:2,perRow:200},flow:{zeroRow:5,perRow:10},emg:{zeroRow:8,perRow:100},
  volT:a3VolTime,volV:a3VolValues,flowT:a3FlowTime,flowV:a3FlowValues,emgV:a3Emg,volTicks:a3VolTicks,flowTicks:a3FlowTicks,emgTicks:a3EmgTicks,timeLabels:a3TimeLabels,markL:a3MarkLabels,markT:a3MarkTime,cursor:a3CursorTime,tickT:a3TickTime,tickH:a3TickHigh,tickL:a3TickLow,tagS:a3TagText,tagT:a3TagTime,tagV:a3TagFlow,noteS:a3NoteText,noteT:a3NoteTime,noteV:a3NoteFlow,
  axisY:1409,tickTop:1397,timeLabelY:1393,markY:1358,scale:[86,143,1406],scaleText:['4 s',112,1396],fs:18,tfs:16,flowW:2.2,emgW:2.3,cursorW:2},
 {id:'a4',left:1356,right:2180.7,top:1055,bottom:1481.6,rows:13,tStart:165,tEnd:375,col:15,vol:{zeroRow:2,perRow:200},flow:{zeroRow:5,perRow:10},emg:{zeroRow:8,perRow:100},
  volT:a4VolTime,volV:a4VolValues,flowT:a4FlowTime,flowV:a4FlowValues,emgV:a4Emg,volTicks:a4VolTicks,flowTicks:a4FlowTicks,emgTicks:a4EmgTicks,timeLabels:a4TimeLabels,markL:a4MarkLabels,markT:a4MarkTime,cursor:a4CursorTime,tickT:a4TickTime,tickH:a4TickHigh,tickL:a4TickLow,tagS:a4TagText,tagT:a4TagTime,tagV:a4TagFlow,noteS:a4NoteText,noteT:a4NoteTime,noteV:a4NoteFlow,
  axisY:1531,tickTop:1523,timeLabelY:1520,markY:1493.5,scale:[1209,1268,1528],scaleText:['15 s',1237,1521],fs:16,tfs:15.5,flowW:2.6,emgW:1.9,cursorW:1.2}
];

function drawPanel(p){
  const g=document.getElementById(p.id);
  const X=t=>p.left+(t-p.tStart)/(p.tEnd-p.tStart)*(p.right-p.left);
  const rowH=(p.bottom-p.top)/p.rows;
  const Y=(ch,v)=>p.top+(ch.zeroRow-v/ch.perRow)*rowH;

  for(let r=1;r<p.rows;r++){
    const y=p.top+r*rowH;
    const ext=(r<=p.emg.zeroRow)?12:0;
    seg(g,'grid-row-line',p.left-ext,y,p.right,y,'#1c1c1c',1.8);
    if(r<p.emg.zeroRow){seg(g,'minor-y-tick',p.left-5,y+rowH/2,p.left,y+rowH/2,'#1c1c1c',1.6);}
  }
  const gridFrom=p.gridFrom===undefined?p.tStart+p.col:p.gridFrom;
  for(let t=gridFrom;t<p.tEnd-0.01;t+=p.col){
    seg(g,'grid-column-line',X(t),p.top,X(t),p.bottom,'#1c1c1c',1.8);
  }
  const frame=make('rect',{x:p.left,y:p.top,width:p.right-p.left,height:p.bottom-p.top,fill:'none',stroke:'#111','stroke-width':3},g);
  
  

  const emgPts=p.emgV.map((v,i)=>[X(p.tStart+i*(p.tEnd-p.tStart)/(p.emgV.length-1)),Y(p.emg,v)]);
  trace(g,'emg-trace',emgPts,MAG,p.emgW);
  trace(g,'vura-trace',p.volT.map((t,i)=>[X(t),Y(p.vol,p.volV[i])]),BLUE,2.4);
  trace(g,'qura-trace',p.flowT.map((t,i)=>[X(t),Y(p.flow,p.flowV[i])]),RED,p.flowW);

  p.cursor.forEach(t=>{seg(g,'fm-cursor-line',X(t),p.top,X(t),p.bottom,RED,p.cursorW);});
  p.tickT.forEach((t,i)=>{seg(g,'event-tick',X(t),Y(p.flow,p.tickH[i]),X(t),Y(p.flow,p.tickL[i]),RED,1.8);});

  function ticks(arr,ch,color,prefix){
    arr.forEach((v,i)=>{
      let dy=0;
      if(i===0){dy=0.235*rowH;}
      if(v===0){dy=-0.165*rowH;}
      label(g,prefix+'-tick-label',String(v),p.left-15,Y(ch,v)+dy,p.fs,color,'end');
    });
  }
  ticks(p.volTicks,p.vol,'#2f3fa5','vura');
  ticks(p.flowTicks,p.flow,'#ee2e38','qura');
  ticks(p.emgTicks,p.emg,'#b8409f','emg');

  p.tagS.forEach((s,i)=>{
    const x=X(p.tagT[i]),y=Y(p.flow,p.tagV[i]);
    const el=label(g,'event-tag',s,x,y,15,'#222');
    el.setAttribute('transform','rotate(90 '+x+' '+y+')');
  });
  p.noteS.forEach((s,i)=>{label(g,'peak-flow-value',s,X(p.noteT[i]),Y(p.flow,p.noteV[i]),16,'#222');});
  p.markL.forEach((s,i)=>{
    seg(g,'event-axis-tick',X(p.markT[i]),p.bottom,X(p.markT[i]),p.bottom+6,'#222',1.2);
    label(g,'event-axis-label',s,X(p.markT[i]),p.markY,15,'#222');
  });

  seg(g,'time-axis-line',p.left,p.axisY,p.right,p.axisY,'#111',3);
  const t0=secs(p.timeLabels[0]);
  for(let t=t0;t<=p.tEnd;t+=p.col){seg(g,'time-axis-tick',X(t),p.tickTop,X(t),p.axisY,'#222',1.6);}
  p.timeLabels.forEach(s=>{label(g,'time-tick-label',s,X(secs(s)),p.timeLabelY,p.tfs,'#222');});

  seg(g,'scale-bar',p.scale[0],p.scale[2],p.scale[1],p.scale[2],'#222',1.6);
  seg(g,'scale-bar-cap',p.scale[0],p.scale[2]-6,p.scale[0],p.scale[2]+6,'#222',1.6);
  seg(g,'scale-bar-cap',p.scale[1],p.scale[2]-6,p.scale[1],p.scale[2]+6,'#222',1.6);
  label(g,'scale-bar-label',p.scaleText[0],p.scaleText[1],p.scaleText[2],16,'#222');
}
panels.forEach(drawPanel);

function drawB(){
  const g=document.getElementById('b');
  const left=181.5,right=985.5,top=1641,bottom=2221;
  const X=t=>left+(t-133.6)*1.94;
  const pves={zero:1915.7,scale:1.0227},pabd={zero:1961.6,scale:1.0227},pdet={zero:2008,scale:1.0227},
        vol={zero:2053.9,scale:0.1024},flow={zero:2099.8,scale:3.07},emg={zero:2145.8,scale:0.3068};
  const Y=(ch,v)=>ch.zero-v*ch.scale;
  const series=(arr)=>arr.map((v,i)=>[133.6+i*412.4/(arr.length-1),v]);

  seg(g,'plot-top-border',left,top,right,top,'#222',1.8);
  seg(g,'plot-left-border',left,top,left,bottom,'#111',3);
  seg(g,'plot-right-border',right,top,right,bottom,'#111',3.4);
  seg(g,'plot-bottom-border',left,bottom,right,bottom,'#111',2.6);

  for(let k=0;k<=31;k++){
    seg(g,'minor-y-tick',left-5,Y(pves,240-15*k),left,Y(pves,240-15*k),'#222',1.4);
  }
  function ticks(arr,ch,color,prefix){
    arr.forEach((v,i)=>{
      let dy=0;
      if(v===0){dy=-5.6;}
      if(v===240){dy=7;}
      seg(g,prefix+'-major-tick',left-11,Y(ch,v),left,Y(ch,v),'#222',1.6);
      label(g,prefix+'-tick-label',String(v),left-16,Y(ch,v)+dy,16.5,color,'end');
    });
  }
  ticks(bPvesTicks,pves,'#2f3fa5','pves');
  ticks(bPabdTicks,pabd,'#ee2e38','pabd');
  ticks(bPdetTicks,pdet,'#168a4a','pdet');
  ticks(bVolTicks,vol,'#19b9d0','vura');
  ticks(bFlowTicks,flow,'#80802a','qura');
  ticks(bEmgTicks,emg,'#b8409f','emg');

  const area=make('polygon',{points:bFlowTime.map((t,i)=>X(t).toFixed(1)+','+Y(flow,bFlowValues[i]).toFixed(1)).join(' '),fill:'#6f6f22'},g);
  
  
  trace(g,'emg-trace',series(bEmg).map(p=>[X(p[0]),Y(emg,p[1])]),MAG,2.2);
  trace(g,'qura-trace',bFlowTime.map((t,i)=>[X(t),Y(flow,bFlowValues[i])]),OLIVE,2.4);
  trace(g,'vura-trace',bVolTime.map((t,i)=>[X(t),Y(vol,bVolValues[i])]),CYAN,2.8);
  trace(g,'pdet-trace',series(bPdet).map(p=>[X(p[0]),Y(pdet,p[1])]),GREEN,1.9);
  trace(g,'pabd-trace',series(bPabd).map(p=>[X(p[0]),Y(pabd,p[1])]),RED,1.9);
  trace(g,'pves-trace',series(bPves).map(p=>[X(p[0]),Y(pves,p[1])]),BLUE,1.9);

  bCursorTime.forEach(t=>{seg(g,'cursor-line',X(t),top,X(t),bottom,'#5560b8',1.3);});
  const kinds={blue:'#4a55b5',red:RED,olive:OLIVE};
  bEventTime.forEach((t,i)=>{
    const k=bEventKind[i];
    seg(g,'event-marker',X(t),bottom-25,X(t),bottom,kinds[k],k==='red'?2.4:1.4);
  });
  const rowY=[2232,2242];
  bLabelText.forEach((s,i)=>{
    const t=bLabelTime[i],e=bEventTime[bLabelEvent[i]],y=rowY[bLabelRow[i]];
    if(Math.abs(t-e)>3){seg(g,'event-leader',X(e),bottom,X(t)-6,y-6,'#333',1);}
    label(g,'event-label',s,X(t),y,15,'#222');
  });
  function notes(txt,ts,vs,ch){
    txt.forEach((s,i)=>{
      const x=X(ts[i]),y=Y(ch,vs[i]);
      label(g,'value-note',s,x,y,15,'#222');
      seg(g,'value-note-leader',x+6,y+7,x+11,y+10,'#333',1);
    });
  }
  notes(bPvesNoteText,bPvesNoteTime,bPvesNoteValue,pves);
  notes(bPabdNoteText,bPabdNoteTime,bPabdNoteValue,pabd);
  notes(bPdetNoteText,bPdetNoteTime,bPdetNoteValue,pdet);
  notes(bVolNoteText,bVolNoteTime,bVolNoteValue,vol);
  notes(bFlowNoteText,bFlowNoteTime,bFlowNoteValue,flow);
  notes(bEmgNoteText,bEmgNoteTime,bEmgNoteValue,emg);

  seg(g,'time-axis-line',left,2268.6,right,2268.6,'#111',3);
  for(let t=150;t<=540;t+=30){
    seg(g,'time-axis-tick',X(t),2260,X(t),2268.6,'#222',1.6);
  }
  bTimeLabels.forEach(s=>{label(g,'time-tick-label',s,X(secs(s)),2258,15.5,'#222');});
  seg(g,'scale-bar',35,2264,95,2264,'#222',1.6);
  seg(g,'scale-bar-cap',35,2259,35,2269,'#222',1.6);
  seg(g,'scale-bar-cap',95,2259,95,2269,'#222',1.6);
  label(g,'scale-bar-label','30 s',65,2257,15,'#222');
}
drawB();
</script>
</body>
</html>
